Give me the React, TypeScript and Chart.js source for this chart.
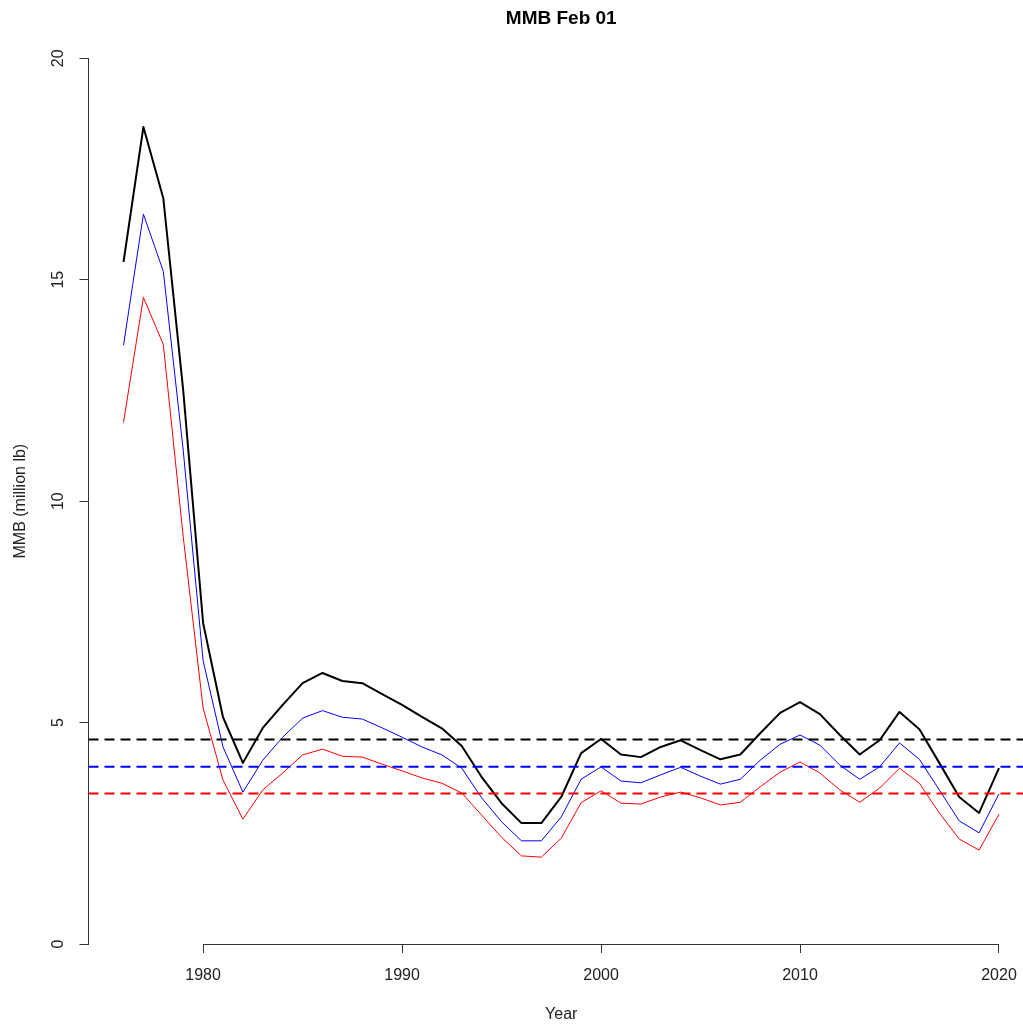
import React, { useEffect, useRef } from "react";
import { Chart, registerables } from "chart.js";

Chart.register(...registerables);

const years = [
  1976, 1977, 1978, 1979, 1980, 1981, 1982, 1983, 1984, 1985, 1986, 1987, 1988, 1989, 1990,
  1991, 1992, 1993, 1994, 1995, 1996, 1997, 1998, 1999, 2000, 2001, 2002, 2003, 2004, 2005,
  2006, 2007, 2008, 2009, 2010, 2011, 2012, 2013, 2014, 2015, 2016, 2017, 2018, 2019, 2020,
];

const mmbBlack = [
  15.4, 18.45, 16.84, 12.5, 7.25, 5.12, 4.09, 4.88, 5.4, 5.89, 6.12, 5.94, 5.89, 5.64, 5.4,
  5.13, 4.87, 4.47, 3.77, 3.18, 2.73, 2.73, 3.32, 4.31, 4.63, 4.28, 4.22, 4.45, 4.6, 4.38,
  4.17, 4.28, 4.76, 5.22, 5.46, 5.19, 4.72, 4.28, 4.6, 5.24, 4.85, 4.09, 3.32, 2.96, 3.97,
];

const mmbBlue = [
  13.52, 16.48, 15.19, 11.15, 6.4, 4.45, 3.43, 4.15, 4.67, 5.1, 5.27, 5.12, 5.08, 4.88, 4.67,
  4.45, 4.27, 3.97, 3.3, 2.76, 2.33, 2.33, 2.87, 3.72, 4.0, 3.68, 3.64, 3.82, 3.99, 3.79,
  3.61, 3.72, 4.15, 4.51, 4.72, 4.49, 4.04, 3.72, 4.0, 4.54, 4.17, 3.48, 2.78, 2.51, 3.39,
];

const mmbRed = [
  11.78, 14.6, 13.54, 9.2, 5.33, 3.7, 2.82, 3.48, 3.86, 4.27, 4.4, 4.24, 4.22, 4.06, 3.91,
  3.75, 3.63, 3.41, 2.91, 2.41, 1.99, 1.96, 2.39, 3.19, 3.46, 3.18, 3.16, 3.32, 3.43, 3.3,
  3.14, 3.2, 3.55, 3.88, 4.11, 3.86, 3.48, 3.2, 3.52, 3.97, 3.63, 2.96, 2.37, 2.12, 2.93,
];

const refBlack = 4.62;
const refBlue = 4.0;
const refRed = 3.4;

const X_MIN = 1974.24;
const X_MAX = 2021.76;
const yTicks = [0, 5, 10, 15, 20];

const FONT = "'Liberation Sans', Arial, Helvetica, sans-serif";

const xAxisLinePlugin = {
  id: "xAxisLine",
  afterDraw(chart: any) {
    const xs = chart.scales.x;
    const ticks = xs.ticks;
    if (!ticks.length) return;
    const x0 = xs.getPixelForValue(ticks[0].value);
    const x1 = xs.getPixelForValue(ticks[ticks.length - 1].value);
    const y = Math.round(chart.chartArea.bottom) + 0.5;
    const ctx = chart.ctx;
    ctx.save();
    ctx.strokeStyle = "#333";
    ctx.lineWidth = 1;
    ctx.beginPath();
    ctx.moveTo(x0, y);
    ctx.lineTo(x1, y);
    ctx.stroke();
    ctx.restore();
  },
};

export default function App() {
  const ref = useRef<HTMLCanvasElement | null>(null);

  useEffect(() => {
    if (!ref.current) return;
    const series = (vals: number[]) => years.map((yr, i) => ({ x: yr, y: vals[i] }));
    const hline = (v: number) => [
      { x: X_MIN, y: v },
      { x: X_MAX, y: v },
    ];
    const chart = new Chart(ref.current, {
      type: "line",
      data: {
        datasets: [
          { data: hline(refBlack), borderColor: "#000", borderWidth: 2, borderDash: [10, 6], pointRadius: 0 },
          { data: hline(refBlue), borderColor: "#0000ff", borderWidth: 2, borderDash: [10, 6], pointRadius: 0 },
          { data: hline(refRed), borderColor: "#ff0000", borderWidth: 2, borderDash: [10, 6], pointRadius: 0 },
          { data: series(mmbBlack), borderColor: "#000", borderWidth: 2, pointRadius: 0, tension: 0, borderJoinStyle: "round" },
          { data: series(mmbBlue), borderColor: "#0000ff", borderWidth: 1, pointRadius: 0, tension: 0, borderJoinStyle: "round" },
          { data: series(mmbRed), borderColor: "#ff0000", borderWidth: 1, pointRadius: 0, tension: 0, borderJoinStyle: "round" },
        ] as any,
      },
      options: {
        responsive: false,
        animation: false,
        events: [],
        layout: { padding: { left: 0, top: 0, bottom: 0, right: 6 } },
        plugins: {
          legend: { display: false },
          tooltip: { enabled: false },
          title: {
            display: true,
            text: "MMB Feb 01",
            fullSize: false,
            color: "#000",
            font: { family: FONT, size: 19, weight: "bold" },
            padding: { top: 7, bottom: 28.5 },
          },
        },
        scales: {
          x: {
            type: "linear",
            min: X_MIN,
            max: X_MAX,
            grid: { display: true, drawOnChartArea: false, drawTicks: true, tickLength: 9, color: "#333", lineWidth: 1 },
            border: { display: false },
            ticks: {
              stepSize: 10,
              includeBounds: false,
              padding: 13.4,
              color: "#222",
              font: { family: FONT, size: 16 },
              maxRotation: 0,
              callback: (v: any) => String(v),
            },
            title: {
              display: true,
              text: "Year",
              color: "#222",
              font: { family: FONT, size: 16 },
              padding: { top: 6.4, bottom: 1.4 },
            },
          },
          y: {
            type: "linear",
            min: yTicks[0],
            max: yTicks[yTicks.length - 1],
            grid: { display: true, drawOnChartArea: false, drawTicks: true, tickLength: 9, color: "#333", lineWidth: 1 },
            border: { display: true, color: "#333", width: 1 },
            ticks: {
              stepSize: 5,
              minRotation: 90,
              maxRotation: 90,
              crossAlign: "center",
              padding: 11.6,
              color: "#222",
              font: { family: FONT, size: 16 },
              callback: (v: any) => String(v),
            },
            title: {
              display: true,
              text: "MMB (million lb)",
              color: "#222",
              font: { family: FONT, size: 16 },
              padding: { top: 11.4, bottom: 6.5 },
            },
          },
        },
      } as any,
      plugins: [xAxisLinePlugin],
    });
    return () => chart.destroy();
  }, []);

  return (
    <div
      style={{
        position: "fixed",
        left: 0,
        top: 0,
        width: 1023,
        height: 1026,
        overflow: "hidden",
        background: "#fff",
      }}
    >
      <canvas ref={ref} width={1040} height={1026} style={{ display: "block", width: 1040, height: 1026 }} />
    </div>
  );
}
